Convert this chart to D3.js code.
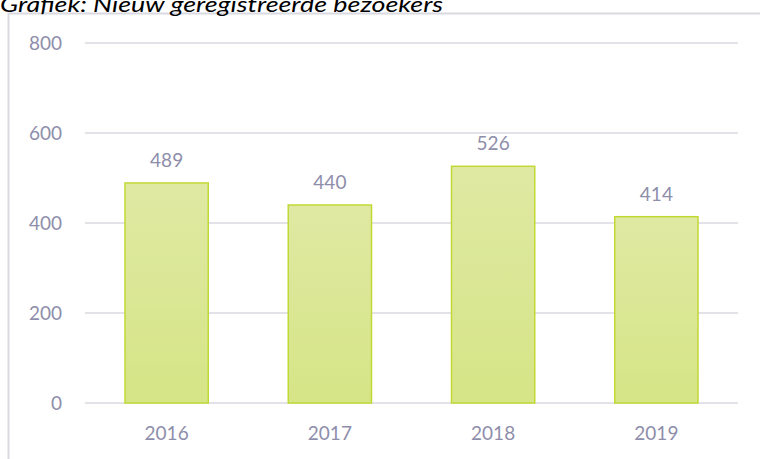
<!DOCTYPE html>
<html>
<head>
<meta charset="utf-8">
<script src="https://cdn.jsdelivr.net/npm/d3@7"></script>
<style>
  body { margin: 0; background: #fff; }
  svg { display: block; }
</style>
</head>
<body>
<script>
// data
var years = ["2016", "2017", "2018", "2019"];
var visitors = [489, 440, 526, 414];
var yTicks = [0, 200, 400, 600, 800];
var title = "Grafiek: Nieuw geregistreerde bezoekers";

var width = 760, height = 459;
var font = "Lato, 'Open Sans', sans-serif";
var textColor = "#8e8eab";
var gridColor = "#d9d9e1";

var svg = d3.select("body").append("svg")
    .attr("width", width)
    .attr("height", height);

// bar gradient
var defs = svg.append("defs");
var grad = defs.append("linearGradient")
    .attr("id", "barGrad")
    .attr("x1", 0).attr("y1", 0).attr("x2", 0).attr("y2", 1);
grad.append("stop").attr("offset", "0%").attr("stop-color", "#dfe9a3");
grad.append("stop").attr("offset", "100%").attr("stop-color", "#d6e586");

// outer frame (runs off the right and bottom edges)
svg.append("rect")
    .attr("x", 8.5).attr("y", 13.5)
    .attr("width", 800).attr("height", 500)
    .attr("fill", "none")
    .attr("stroke", gridColor)
    .attr("stroke-width", 2);

// title, top part cut off like in the source
svg.append("text")
    .attr("x", 0).attr("y", 12)
    .attr("font-family", font)
    .attr("font-style", "italic")
    .attr("font-size", 22)
    .attr("fill", "#000")
    .attr("textLength", 443)
    .attr("lengthAdjust", "spacingAndGlyphs")
    .text(title);

var x = d3.scaleBand()
    .domain(years)
    .range([85, 738])
    .paddingInner(0.49)
    .paddingOuter(0.245);

var y = d3.scaleLinear()
    .domain([0, 800])
    .range([403, 43]);

// gridlines
svg.append("g")
    .selectAll("line")
    .data(yTicks)
    .enter()
    .append("line")
    .attr("x1", 85).attr("x2", 738)
    .attr("y1", function(d) { return y(d); })
    .attr("y2", function(d) { return y(d); })
    .attr("stroke", gridColor)
    .attr("stroke-width", 1.5);

// y axis labels
svg.append("g")
    .selectAll("text")
    .data(yTicks)
    .enter()
    .append("text")
    .attr("x", 62)
    .attr("y", function(d) { return y(d); })
    .attr("dy", "0.36em")
    .attr("text-anchor", "end")
    .attr("font-family", font)
    .attr("font-size", 19)
    .attr("fill", textColor)
    .text(function(d) { return d; });

// bars
svg.append("g")
    .selectAll("rect")
    .data(visitors)
    .enter()
    .append("rect")
    .attr("x", function(d, i) { return x(years[i]); })
    .attr("y", function(d) { return y(d); })
    .attr("width", x.bandwidth())
    .attr("height", function(d) { return y(0) - y(d); })
    .attr("fill", "url(#barGrad)")
    .attr("stroke", "#c2d935")
    .attr("stroke-width", 1.5);

// value labels
svg.append("g")
    .selectAll("text")
    .data(visitors)
    .enter()
    .append("text")
    .attr("x", function(d, i) { return x(years[i]) + x.bandwidth() / 2; })
    .attr("y", function(d) { return y(d) - 16; })
    .attr("text-anchor", "middle")
    .attr("font-family", font)
    .attr("font-size", 19)
    .attr("fill", textColor)
    .text(function(d) { return d; });

// x axis labels
svg.append("g")
    .selectAll("text")
    .data(years)
    .enter()
    .append("text")
    .attr("x", function(d) { return x(d) + x.bandwidth() / 2; })
    .attr("y", 440)
    .attr("text-anchor", "middle")
    .attr("font-family", font)
    .attr("font-size", 19)
    .attr("fill", textColor)
    .text(function(d) { return d; });
</script>
</body>
</html>
